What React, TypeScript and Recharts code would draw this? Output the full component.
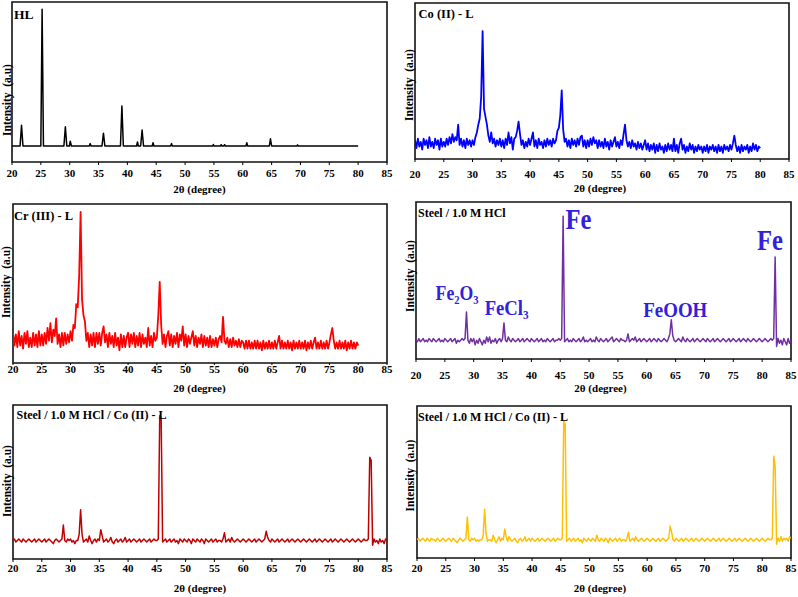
import { LineChart, Line, XAxis, YAxis, ReferenceArea, ReferenceDot } from "recharts";

const SERIF = "'Liberation Serif', 'Times New Roman', serif";
const ANNOT = "#3320dc";
const TICKS = [20, 25, 30, 35, 40, 45, 50, 55, 60, 65, 70, 75, 80, 85];
const STEP = 0.25; // diffractometer step, degrees 2θ
const SIDE = 14; // room left/right of the plot for the end tick labels

// HL ligand: sharp peaks on a flat baseline, [2θ, intensity]
const hlPoints: [number, number][] = [
  [20, 10], [21.4, 10], [21.65, 23], [21.9, 10], [25.0, 10], [25.22, 95.5], [25.45, 10],
  [29.0, 10], [29.25, 22], [29.5, 10], [29.95, 10], [30.1, 13], [30.3, 10],
  [33.4, 10], [33.55, 11.5], [33.7, 10], [35.6, 10], [35.85, 18], [36.1, 10],
  [38.8, 10], [39.05, 35], [39.3, 10], [41.6, 10], [41.75, 12.5], [41.9, 10],
  [42.3, 10], [42.55, 20], [42.8, 10], [44.3, 10], [44.45, 12], [44.6, 10],
  [47.5, 10], [47.65, 11.5], [47.8, 10], [54.8, 10], [54.9, 11], [55, 10],
  [56.1, 10], [56.25, 10.8], [56.4, 10], [56.7, 10], [56.85, 10.8], [57, 10],
  [60.55, 10], [60.7, 12], [60.85, 10], [64.6, 10], [64.8, 14.5], [65, 10],
  [69.4, 10], [69.5, 10.7], [69.6, 10], [80, 10],
];

// Co(II)-L, 20..80 in 0.25 steps
const coValues = [
  12, 7, 13, 8, 11, 6, 13, 9, 12, 7, 14, 8, 11, 7, 13, 9, 12, 6, 13, 8,
  11, 8, 13, 9, 14, 10, 16, 11, 14, 12, 22, 9, 13, 8, 12, 7, 13, 9, 12, 8,
  12, 9, 14, 17, 22, 26, 40, 82, 32, 27, 22, 15, 11, 17, 10, 13, 8, 12, 9, 13,
  8, 12, 7, 13, 9, 17, 10, 14, 6, 13, 14, 18, 24, 16, 9, 12, 7, 11, 8, 13,
  9, 13, 17, 8, 12, 7, 13, 9, 11, 7, 12, 8, 13, 9, 12, 8, 13, 10, 12, 18,
  20, 28, 44, 19, 11, 13, 8, 12, 7, 13, 9, 12, 8, 13, 9, 14, 15, 8, 12, 7,
  12, 8, 13, 9, 14, 10, 12, 7, 12, 8, 11, 7, 13, 8, 11, 6, 12, 8, 11, 14,
  8, 11, 7, 12, 9, 16, 22, 12, 8, 11, 7, 12, 8, 10, 6, 11, 7, 10, 6, 9,
  12, 6, 10, 5, 9, 6, 10, 4, 9, 5, 10, 6, 8, 4, 9, 5, 10, 6, 9, 5,
  13, 5, 9, 4, 10, 13, 6, 9, 4, 8, 5, 10, 6, 9, 4, 8, 5, 9, 6, 8,
  4, 8, 5, 9, 4, 8, 6, 9, 5, 8, 4, 9, 5, 8, 4, 9, 6, 8, 5, 9,
  6, 10, 15, 9, 5, 8, 4, 9, 5, 8, 6, 9, 4, 8, 5, 10, 6, 9, 5, 8,
  7,
];

// Cr(III)-L, 20..80 in 0.25 steps
const crValues = [
  19, 11, 18, 10, 20, 11, 17, 9, 19, 12, 20, 10, 16, 10, 19, 11, 18, 10, 20, 11,
  18, 11, 19, 12, 22, 14, 25, 13, 21, 17, 28, 12, 18, 10, 19, 11, 19, 12, 18, 13,
  20, 14, 24, 22, 37, 35, 55, 95, 40, 30, 26, 14, 19, 10, 18, 11, 19, 10, 19, 12,
  19, 11, 19, 23, 13, 18, 10, 19, 12, 17, 10, 19, 11, 16, 8, 18, 10, 17, 10, 16,
  19, 10, 18, 12, 19, 10, 17, 11, 19, 10, 18, 12, 16, 10, 22, 11, 17, 10, 19, 14,
  16, 30, 51, 24, 12, 18, 10, 17, 20, 11, 18, 10, 17, 12, 19, 10, 18, 14, 23, 11,
  18, 10, 17, 12, 16, 20, 11, 17, 10, 16, 12, 18, 10, 17, 11, 16, 10, 17, 10, 15,
  11, 16, 10, 15, 17, 13, 29, 14, 12, 16, 10, 15, 10, 16, 11, 14, 10, 15, 10, 14,
  13, 9, 14, 9, 14, 9, 13, 9, 14, 9, 14, 9, 13, 8, 14, 9, 13, 9, 14, 9,
  13, 9, 14, 9, 13, 17, 9, 14, 9, 13, 9, 14, 9, 13, 8, 14, 9, 13, 9, 14,
  9, 13, 9, 14, 8, 13, 9, 14, 9, 13, 16, 9, 13, 9, 14, 9, 13, 9, 14, 9,
  13, 18, 22, 14, 9, 13, 9, 14, 9, 13, 9, 14, 8, 13, 9, 14, 9, 13, 9, 13,
  11,
];

// Steel / 1.0 M HCl, 20..85 in 0.25 steps
const steelValues = [
  12, 11, 13, 11, 12, 13, 11, 12, 11, 13, 12, 11, 13, 12, 11, 12, 13, 11, 12, 11,
  13, 12, 11, 12, 13, 11, 12, 13, 10, 12, 11, 12, 13, 12, 13, 30, 12, 10, 13, 11,
  13, 9, 12, 10, 13, 11, 9, 12, 10, 14, 11, 14, 10, 12, 11, 13, 10, 12, 13, 11,
  13, 23, 12, 11, 14, 12, 11, 13, 12, 11, 12, 13, 11, 12, 13, 11, 12, 13, 12, 11,
  13, 12, 11, 12, 13, 11, 12, 13, 11, 12, 11, 13, 12, 11, 12, 13, 11, 12, 12, 13,
  12, 13, 91, 11, 12, 13, 11, 12, 11, 13, 12, 11, 12, 13, 11, 12, 14, 11, 12, 11,
  12, 13, 11, 12, 11, 14, 12, 11, 13, 12, 11, 12, 13, 11, 12, 13, 14, 11, 12, 13,
  12, 11, 13, 12, 12, 11, 12, 16, 11, 12, 13, 12, 14, 11, 12, 13, 11, 12, 13, 12,
  11, 12, 13, 11, 12, 13, 12, 11, 13, 12, 11, 12, 13, 12, 11, 13, 16, 25, 15, 12,
  11, 12, 13, 12, 11, 14, 12, 11, 13, 12, 11, 12, 13, 11, 12, 13, 12, 11, 12, 13,
  12, 11, 13, 12, 11, 12, 13, 11, 12, 13, 12, 11, 12, 13, 12, 11, 12, 13, 11, 12,
  13, 12, 11, 12, 13, 11, 12, 13, 12, 11, 13, 12, 11, 12, 13, 12, 11, 12, 13, 12,
  11, 12, 13, 12, 11, 12, 13, 12, 13, 65, 8, 13, 10, 12, 9, 13, 11, 9, 13, 10,
  12,
];

// Steel / 1.0 M HCl / Co(II)-L (dark red panel)
const steelCoValues = [
  12, 13, 11, 12, 13, 12, 11, 13, 12, 11, 12, 13, 12, 11, 12, 13, 11, 12, 13, 12,
  11, 12, 13, 11, 12, 13, 12, 11, 10, 12, 13, 12, 11, 12, 13, 22, 12, 11, 13, 12,
  13, 11, 12, 10, 12, 12, 16, 32, 16, 11, 12, 13, 11, 15, 12, 10, 12, 13, 11, 13,
  12, 19, 15, 11, 12, 13, 11, 12, 14, 11, 10, 12, 13, 11, 12, 13, 11, 12, 14, 11,
  12, 13, 11, 12, 13, 12, 11, 12, 13, 11, 12, 13, 12, 11, 12, 13, 11, 12, 13, 12,
  12, 13, 93, 91, 11, 12, 13, 11, 12, 13, 11, 12, 13, 11, 12, 10, 13, 12, 11, 13,
  12, 11, 13, 12, 10, 13, 12, 11, 13, 12, 11, 13, 12, 10, 13, 12, 11, 12, 13, 11,
  12, 13, 11, 12, 12, 11, 13, 17, 11, 12, 13, 11, 14, 12, 11, 12, 13, 12, 11, 12,
  13, 12, 11, 12, 13, 12, 11, 12, 13, 11, 12, 13, 12, 11, 12, 13, 18, 14, 12, 11,
  13, 12, 11, 12, 13, 11, 12, 13, 12, 11, 12, 13, 11, 12, 13, 12, 11, 12, 13, 12,
  11, 12, 13, 12, 11, 12, 13, 12, 11, 12, 13, 11, 12, 13, 12, 11, 12, 13, 12, 11,
  12, 13, 11, 12, 13, 12, 11, 12, 13, 12, 11, 12, 13, 12, 11, 12, 13, 12, 11, 12,
  13, 12, 11, 12, 13, 12, 12, 13, 66, 64, 9, 13, 11, 12, 10, 13, 11, 12, 10, 13,
  12,
];

// Steel / 1.0 M HCl / Co(II)-L (yellow panel)
const steelCo2Values = [
  12, 13, 11, 12, 13, 12, 11, 13, 12, 11, 13, 12, 12, 11, 13, 12, 11, 12, 13, 12,
  11, 12, 13, 12, 11, 13, 12, 11, 10, 12, 13, 12, 11, 12, 13, 27, 12, 11, 13, 12,
  13, 11, 12, 11, 12, 12, 15, 32, 16, 11, 12, 12, 11, 15, 12, 10, 12, 14, 11, 13,
  12, 19, 14, 11, 14, 12, 11, 12, 13, 11, 10, 12, 13, 11, 12, 14, 11, 12, 13, 11,
  13, 12, 11, 12, 13, 11, 12, 13, 12, 11, 12, 13, 12, 11, 12, 13, 11, 12, 13, 12,
  12, 13, 90, 88, 11, 12, 13, 11, 12, 13, 11, 12, 13, 11, 12, 10, 13, 12, 11, 13,
  12, 11, 13, 12, 11, 15, 12, 11, 13, 12, 11, 13, 12, 10, 13, 12, 11, 12, 13, 11,
  12, 13, 11, 12, 12, 11, 13, 17, 11, 12, 13, 11, 14, 12, 11, 12, 13, 12, 11, 12,
  13, 12, 11, 12, 13, 12, 11, 12, 13, 11, 12, 13, 12, 11, 12, 13, 21, 17, 12, 11,
  13, 12, 11, 12, 13, 11, 12, 13, 12, 11, 12, 13, 11, 12, 13, 12, 11, 12, 13, 12,
  11, 12, 13, 12, 11, 12, 13, 12, 11, 12, 13, 11, 12, 13, 12, 11, 12, 13, 12, 11,
  12, 13, 11, 12, 13, 12, 11, 12, 13, 12, 11, 12, 13, 12, 11, 12, 13, 12, 11, 12,
  13, 12, 11, 12, 13, 12, 12, 13, 67, 60, 9, 13, 11, 14, 11, 13, 12, 13, 11, 14,
  13,
];

// phase labels on the Steel / 1.0 M HCl pattern, anchored at [2θ, intensity]
const steelPhases = [
  { name: "Fe", x: 45.9, y: 83 },
  { name: "Fe", x: 79.1, y: 69.5 },
  { name: "Fe₂O₃", x: 23.4, y: 37.5 },
  { name: "FeCl₃", x: 31.9, y: 28 },
  { name: "FeOOH", x: 59.4, y: 27 },
];
const PHASE_STYLE: Record<string, { size: number; length: number }> = {
  Fe: { size: 29, length: 26 },
  "Fe₂O₃": { size: 20, length: 43 },
  "FeCl₃": { size: 20, length: 44 },
  FeOOH: { size: 20, length: 64 },
};

const onGrid = (values: number[]) => values.map((y, i) => ({ x: 20 + i * STEP, y }));

type Panel = {
  id: string;
  title: string;
  titleSize: number;
  color: string;
  lineWidth: number;
  data: { x: number; y: number }[];
  left: number;
  top: number;
  width: number;
  height: number;
  gap: number;
  titleAt: [number, number];
  yLabelAt: [number, number];
  xTitleAt: [number, number];
  phases?: boolean;
};

const PANELS: Panel[] = [
  {
    id: "hl", title: "HL", titleSize: 13.5, color: "#000000", lineWidth: 1.5,
    data: hlPoints.map(([x, y]) => ({ x, y })),
    left: 12, top: 2, width: 375, height: 160, gap: 7,
    titleAt: [14, 18.5], yLabelAt: [7, 100], xTitleAt: [199.5, 189],
  },
  {
    id: "co", title: "Co (II) - L", titleSize: 12.5, color: "#0000ff", lineWidth: 1.8,
    data: onGrid(coValues),
    left: 415, top: 3, width: 374, height: 156, gap: 11,
    titleAt: [418.5, 17.5], yLabelAt: [408.5, 85], xTitleAt: [600, 188],
  },
  {
    id: "cr", title: "Cr (III) - L", titleSize: 12.5, color: "#ff0000", lineWidth: 1.8,
    data: onGrid(crValues),
    left: 13, top: 204, width: 374, height: 159, gap: 2,
    titleAt: [14, 219.5], yLabelAt: [6, 282], xTitleAt: [199.5, 388],
  },
  {
    id: "steel", title: "Steel / 1.0 M HCl", titleSize: 12, color: "#7030a0", lineWidth: 1.5,
    data: onGrid(steelValues),
    left: 416, top: 202, width: 375, height: 157, gap: 12,
    titleAt: [418, 217], yLabelAt: [409.5, 276], xTitleAt: [600.5, 388], phases: true,
  },
  {
    id: "steelco", title: "Steel / 1.0 M HCl / Co (II) - L", titleSize: 12, color: "#c00000", lineWidth: 1.5,
    data: onGrid(steelCoValues),
    left: 13, top: 405, width: 374, height: 154, gap: 5,
    titleAt: [16.5, 419], yLabelAt: [6.5, 481], xTitleAt: [200, 588],
  },
  {
    id: "steelco2", title: "Steel / 1.0 M HCl / Co (II) - L", titleSize: 12, color: "#ffc000", lineWidth: 1.5,
    data: onGrid(steelCo2Values),
    left: 417, top: 406, width: 374, height: 152, gap: 6,
    titleAt: [418, 421], yLabelAt: [409.5, 475.5], xTitleAt: [600, 588],
  },
];

function PhaseTag({ cx, cy, name }: { cx?: number; cy?: number; name: string }) {
  if (cx == null || cy == null) return null;
  const { size, length } = PHASE_STYLE[name];
  return (
    <text
      x={cx}
      y={cy}
      fontSize={size}
      fill={ANNOT}
      fontFamily={SERIF}
      fontWeight={700}
      textLength={length}
      lengthAdjust="spacingAndGlyphs"
    >
      {name}
    </text>
  );
}

function XrdPanel({ p }: { p: Panel }) {
  const tickSize = Math.min(3, p.gap);
  return (
    <div style={{ position: "absolute", left: p.left - SIDE, top: p.top - 2 }}>
      <LineChart
        width={p.width + 2 * SIDE}
        height={p.height + 4 + 34}
        data={p.data}
        margin={{ top: 2, right: SIDE, bottom: 2, left: SIDE }}
      >
        <XAxis
          dataKey="x"
          type="number"
          domain={[20, 85]}
          ticks={TICKS}
          interval={0}
          allowDataOverflow
          height={34}
          axisLine={false}
          tickSize={tickSize}
          tickMargin={p.gap - tickSize}
          tickLine={{ stroke: "#000" }}
          tick={{ fill: "#000", fontSize: 11, fontWeight: 700, fontFamily: SERIF }}
        />
        <YAxis hide type="number" domain={[0, 100]} allowDataOverflow />
        <ReferenceArea x1={20} x2={85} y1={0} y2={100} fill="none" fillOpacity={0} stroke="#111" strokeWidth={1.6} ifOverflow="visible" />
        <Line
          type="linear"
          dataKey="y"
          stroke={p.color}
          strokeWidth={p.lineWidth}
          strokeLinejoin="round"
          dot={false}
          activeDot={false}
          isAnimationActive={false}
        />
        {p.phases &&
          steelPhases.map((ph, i) => (
            <ReferenceDot
              key={i}
              x={ph.x}
              y={ph.y}
              r={0}
              ifOverflow="visible"
              shape={(sp: any) => <PhaseTag cx={sp.cx} cy={sp.cy} name={ph.name} />}
            />
          ))}
      </LineChart>
    </div>
  );
}

export default function App() {
  return (
    <div
      style={{
        position: "absolute",
        left: 0,
        top: 0,
        width: 798,
        height: 597,
        background: "#fff",
        overflow: "hidden",
        fontFamily: SERIF,
      }}
    >
      {PANELS.map((p) => (
        <XrdPanel key={p.id} p={p} />
      ))}
      <svg width={798} height={597} style={{ position: "absolute", left: 0, top: 0, pointerEvents: "none" }}>
        {PANELS.map((p) => (
          <g key={p.id} fontFamily={SERIF} fontWeight={700} fill="#000">
            <text x={p.titleAt[0]} y={p.titleAt[1]} fontSize={p.titleSize}>
              {p.title}
            </text>
            <text
              transform={`translate(${p.yLabelAt[0]},${p.yLabelAt[1]}) rotate(-90)`}
              textAnchor="middle"
              dominantBaseline="central"
              fontSize={11.5}
            >
              {"Intensity\u00a0\u00a0(a.u)"}
            </text>
            <text x={p.xTitleAt[0]} y={p.xTitleAt[1]} textAnchor="middle" dominantBaseline="central" fontSize={11}>
              2θ (degree)
            </text>
          </g>
        ))}
      </svg>
    </div>
  );
}
